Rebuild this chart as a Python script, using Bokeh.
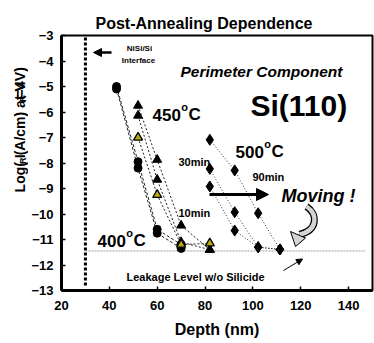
import math
from bokeh.plotting import figure
from bokeh.layouts import row
from bokeh.models import Label, Arrow, NormalHead, Range1d, FixedTicker
from bokeh.core.properties import value
from bokeh.embed import file_html
from bokeh.resources import INLINE

# ---------------- data ----------------
depth_400 = [43, 52, 60, 70]
log_400_a = [-5.0, -7.95, -10.6, -11.2]
log_400_b = [-5.1, -8.2, -10.75, -11.35]

depth_450 = [52, 60, 70, 82]
log_450_a = [-5.75, -7.87, -10.45, -11.4]
log_450_b = [-6.14, -8.65, -11.1, -11.4]
log_450_c = [-7.0, -9.25, -11.2, -11.15]

depth_500 = [82, 92.4, 102.2, 111.3]
log_500_a = [-7.09, -8.29, -9.97, -11.39]
log_500_b = [-8.23, -9.93, -11.3, -11.39]
log_500_c = [-8.92, -10.65, -11.3, -11.39]

interface_depth = 30
leakage_level = -11.45
leakage_end = 147

x_ticks = [20, 40, 60, 80, 100, 120, 140]
y_ticks = [-3, -4, -5, -6, -7, -8, -9, -10, -11, -12, -13]

title_text = "Post-Annealing Dependence"
x_title = "Depth (nm)"

FONT = "Liberation Sans"

# page geometry in pixels
W, H = 374, 343
YLAB_W = 28                    # narrow strip holding the rotated y title
L, R, T, B = 61, 372, 35, 290  # frame edges in page pixels
XMIN, XMAX, YMIN, YMAX = 20, 150, -13, -3


def X(px):
    return XMIN + (px - L) * (XMAX - XMIN) / (R - L)


def Y(py):
    return YMAX - (py - T) * (YMAX - YMIN) / (B - T)


p = figure(width=W - YLAB_W, height=H, x_range=Range1d(XMIN, XMAX), y_range=Range1d(YMIN, YMAX),
           output_backend="svg", toolbar_location=None,
           min_border_left=L - YLAB_W, min_border_right=W - R, min_border_top=T,
           min_border_bottom=H - B)
p.xgrid.visible = False
p.ygrid.visible = False
p.background_fill_color = "white"
p.border_fill_color = "white"
p.outline_line_color = "black"
p.outline_line_width = 2

p.title.text = title_text
p.title.text_font = FONT
p.title.text_font_size = "16px"
p.title.text_font_style = "bold"
p.title.text_color = "black"
p.title.align = "left"
p.title.offset = 95 - L
p.title.standoff = 8

p.xaxis.ticker = FixedTicker(ticks=x_ticks)
p.yaxis.ticker = FixedTicker(ticks=y_ticks)
for ax in (p.xaxis, p.yaxis):
    ax.axis_line_width = 3
    ax.axis_line_color = "black"
    ax.major_tick_in = 4
    ax.major_tick_out = 0
    ax.minor_tick_in = 0
    ax.minor_tick_out = 0
    ax.major_tick_line_width = 1.5
    ax.major_label_text_font = FONT
    ax.major_label_text_font_size = "13px"
    ax.major_label_text_font_style = "bold"
    ax.major_label_text_color = "black"
p.xaxis.major_label_standoff = 10
p.yaxis.major_label_standoff = 8
p.xaxis.axis_label = x_title
p.xaxis.axis_label_text_font = FONT
p.xaxis.axis_label_text_font_size = "16px"
p.xaxis.axis_label_text_font_style = "bold"
p.xaxis.axis_label_text_color = "black"
p.xaxis.axis_label_standoff = 8

# ---------------- reference lines ----------------
p.line([interface_depth, interface_depth], [YMIN + 0.2, YMAX], line_width=3,
       line_dash="3 2", line_color="black")
p.line([interface_depth, leakage_end], [leakage_level, leakage_level], line_width=1,
       line_dash="2 1", line_color="#9a9a9a")

# ---------------- series ----------------
for ys in (log_400_a, log_400_b):
    p.line(depth_400, ys, line_dash="3 2", line_width=1, line_color="#222222")
for ys in (log_450_a, log_450_b, log_450_c):
    p.line(depth_450, ys, line_dash="2 2", line_width=1, line_color="#222222")
for ys in (log_500_a, log_500_b, log_500_c):
    p.line(depth_500, ys, line_dash="1 2", line_width=1, line_color="#333333")

for ys in (log_400_a, log_400_b):
    p.scatter(depth_400, ys, marker="circle", size=8, fill_color="black", line_color="black")
for ys in (log_450_a, log_450_b):
    p.scatter(depth_450, ys, marker="triangle", size=9, fill_color="black", line_color="black")
p.scatter(depth_450, log_450_c, marker="triangle", size=9, fill_color="#b5aa10",
          line_color="black", line_width=1.3)
for ys in (log_500_a, log_500_b, log_500_c):
    p.scatter(depth_500, ys, marker="diamond", size=11, fill_color="black", line_color="black")

# ---------------- text helpers ----------------
AW = {'L': .611, 'o': .611, 'g': .611, '(': .333, ')': .333, ' ': .278, 'I': .278, 'R': .722,
      'A': .722, '/': .278, 'c': .556, 'm': .889, 'a': .556, 't': .333, 'V': .667, '=': .584,
      '4': .556, '5': .556, '0': .556, 'C': .722}


def tw(s, size):
    return sum(AW.get(ch, .6) for ch in s.replace("\u00a0", " ")) * size


def lab(px, py, text, size, style="bold", align="left", color="black"):
    p.add_layout(Label(x=X(px), y=Y(py), text=text, text_font=FONT,
                       text_font_size=f"{size}px", text_font_style=style,
                       text_align=align, text_baseline="alphabetic", text_color=color))


def degree(px, py, num):
    lab(px, py, num, 17)
    x2 = px + tw(num, 17) + 0.5
    lab(x2, py - 8, "o", 11)
    lab(x2 + tw("o", 11) + 0.3, py, "C", 17)


# annotations inside the frame
lab(139, 48, "NiSi/Si", 8, align="center")
lab(138, 60, "Interface", 8, align="center")
lab(180, 71, "Perimeter  Component", 15.5, style="bold italic")
lab(250, 105, "Si(110)", 30)
degree(152, 114, "450")
degree(97, 240, "400")
degree(235, 151, "500")
lab(178, 161, "30min", 11)
lab(178, 212, "10min", 11)
lab(252, 176, "90min", 11)
lab(281, 195, "Moving !", 18, style="bold italic")
lab(126, 276, "Leakage Level w/o Silicide", 11)

# arrows
p.add_layout(Arrow(end=NormalHead(size=8, fill_color="black", line_color="black"),
                   x_start=X(111), y_start=Y(52), x_end=X(93), y_end=Y(52),
                   line_width=2.5, line_color="black"))
p.add_layout(Arrow(end=NormalHead(size=12, fill_color="black", line_color="black"),
                   x_start=X(209), y_start=Y(194), x_end=X(268), y_end=Y(194),
                   line_width=3, line_color="black"))
p.add_layout(Arrow(end=NormalHead(size=6, fill_color="black", line_color="black"),
                   x_start=X(283), y_start=Y(270), x_end=X(302), y_end=Y(258.5),
                   line_width=1, line_color="black"))

# curved gray arrow
bz = dict(x0=[X(306)], y0=[Y(206)], x1=[X(299)], y1=[Y(234)],
          cx0=[X(318)], cy0=[Y(214)], cx1=[X(317)], cy1=[Y(230)])
p.bezier(**bz, line_color="black", line_width=7)
p.bezier(**bz, line_color="#d4d4d4", line_width=4.5)
p.patch([X(290), X(305), X(295)], [Y(231), Y(237.5), Y(246)], fill_color="#d4d4d4",
        line_color="black", line_width=1)

# ---------------- rotated y title in a narrow strip (pixel coordinates) ----------------
yl = figure(width=YLAB_W, height=H, x_range=Range1d(0, YLAB_W), y_range=Range1d(0, H),
            output_backend="svg", toolbar_location=None, min_border=0)
yl.axis.visible = False
yl.grid.visible = False
yl.outline_line_color = None
yl.background_fill_color = "white"
yl.border_fill_color = "white"

pieces = [("Log( I", 14, 19), ("R", 9, 22), ("\u00a0(A/cm) at V", 14, 19),
          ("R", 9, 22), ("=4V)", 14, 19)]
total = sum(tw(t, s) for t, s, _ in pieces)
cur = 132 + total / 2
for txt, sz, bx in pieces:
    yl.text(x=[bx], y=[H - cur], text=[txt], angle=math.pi / 2, text_font=value(FONT),
            text_font_size=f"{sz}px", text_font_style="bold", text_align="left",
            text_baseline="alphabetic", text_color="black")
    cur -= tw(txt, sz)

layout = row(yl, p, spacing=0)
open("out.html", "w").write(file_html(layout, INLINE))
